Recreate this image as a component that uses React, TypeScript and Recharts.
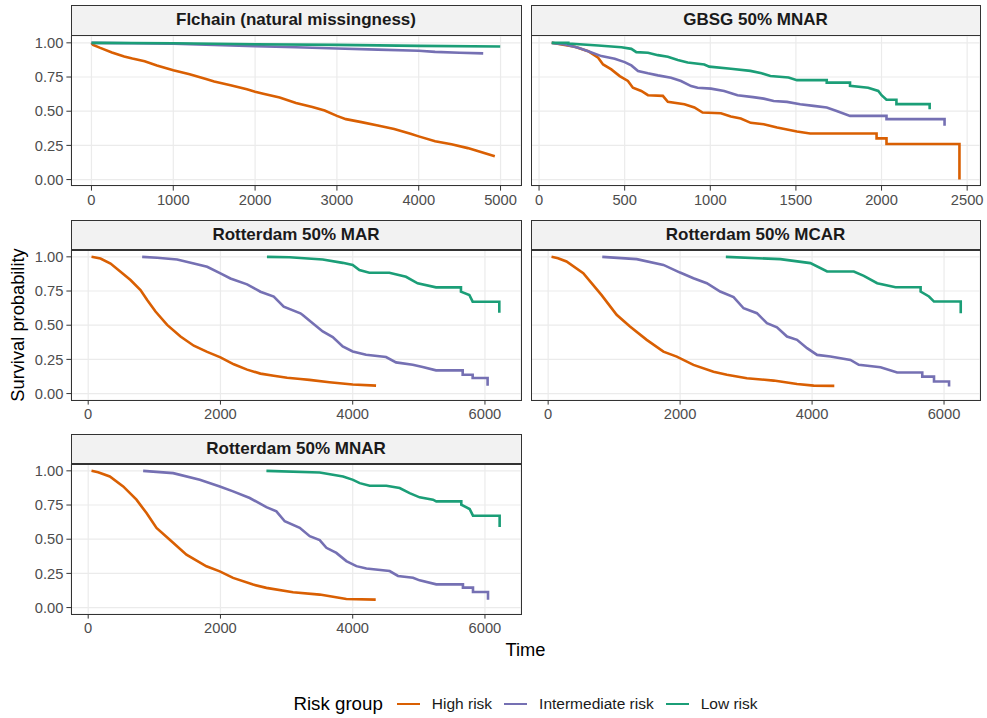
import React from 'react';
import { LineChart, Line, XAxis, YAxis, CartesianGrid } from 'recharts';

const FONT = '"Liberation Sans", Arial, Helvetica, sans-serif';

const groups = ['High risk', 'Intermediate risk', 'Low risk'];
const groupColors = ['#D95F02', '#7570B3', '#1B9E77'];

const panelTitles = [
  'Flchain (natural missingness)',
  'GBSG 50% MNAR',
  'Rotterdam 50% MAR',
  'Rotterdam 50% MCAR',
  'Rotterdam 50% MNAR',
];

const yTicks = [0, 0.25, 0.5, 0.75, 1];
const flchainTicks = [0, 1000, 2000, 3000, 4000, 5000];
const gbsgTicks = [0, 500, 1000, 1500, 2000, 2500];
const rotterdamTicks = [0, 2000, 4000, 6000];

type Pt = [number, number];

// Flchain
const flchainHigh: Pt[] = [
  [0, 1], [20, 0.985], [100, 0.965], [250, 0.93], [400, 0.9], [500, 0.885], [650, 0.865],
  [800, 0.835], [1000, 0.8], [1200, 0.77], [1400, 0.735], [1500, 0.718], [1700, 0.69],
  [1900, 0.66], [2000, 0.643], [2100, 0.628], [2300, 0.6], [2500, 0.56], [2700, 0.53],
  [2850, 0.505], [3000, 0.466], [3110, 0.442], [3300, 0.42], [3500, 0.396], [3700, 0.37],
  [3900, 0.335], [4000, 0.316], [4200, 0.28], [4400, 0.258], [4600, 0.23], [4800, 0.195],
  [4930, 0.17],
];
const flchainMid: Pt[] = [
  [0, 1], [500, 0.997], [1000, 0.993], [1500, 0.985], [2000, 0.976], [2500, 0.968],
  [3000, 0.959], [3500, 0.95], [4000, 0.942], [4200, 0.934], [4500, 0.928], [4788, 0.923],
];
const flchainLow: Pt[] = [
  [0, 1], [1000, 0.997], [2000, 0.99], [3000, 0.985], [4000, 0.978], [4996, 0.973],
];

// GBSG
const gbsgHigh: Pt[] = [
  [74, 1], [132, 0.988], [209, 0.971], [287, 0.939], [345, 0.891], [374, 0.842], [422, 0.806],
  [471, 0.757], [519, 0.721], [548, 0.672], [597, 0.648], [636, 0.617], [723, 0.612],
  [752, 0.568], [849, 0.551], [907, 0.527], [955, 0.49], [1062, 0.485], [1120, 0.461],
  [1178, 0.447], [1236, 0.415], [1312, 0.405], [1390, 0.381], [1506, 0.352], [1583, 0.337],
  [1971, 0.337], [1971, 0.301], [2029, 0.301], [2029, 0.26], [2455, 0.26], [2455, 0],
];
const gbsgMid: Pt[] = [
  [74, 1], [151, 0.988], [229, 0.964], [287, 0.939], [364, 0.903], [442, 0.883], [500, 0.859],
  [539, 0.835], [578, 0.794], [636, 0.777], [694, 0.762], [771, 0.745], [829, 0.721],
  [888, 0.684], [926, 0.672], [1004, 0.665], [1081, 0.648], [1159, 0.617], [1250, 0.603],
  [1312, 0.592], [1370, 0.575], [1448, 0.568], [1525, 0.551], [1603, 0.539], [1680, 0.527],
  [1738, 0.502], [1816, 0.466], [2029, 0.466], [2029, 0.442], [2368, 0.442], [2368, 0.393],
];
const gbsgLow: Pt[] = [
  [74, 1], [171, 1], [171, 0.995], [345, 0.981], [481, 0.968], [539, 0.956], [568, 0.932],
  [636, 0.927], [694, 0.91], [752, 0.898], [810, 0.874], [868, 0.856], [965, 0.842],
  [994, 0.826], [1120, 0.811], [1234, 0.795], [1300, 0.777], [1351, 0.758], [1457, 0.746],
  [1506, 0.727], [1680, 0.727], [1680, 0.709], [1816, 0.709], [1816, 0.685], [1922, 0.672],
  [1981, 0.648], [2000, 0.617], [2029, 0.584], [2087, 0.584], [2087, 0.552], [2281, 0.552],
  [2281, 0.515],
];

// Rotterdam MAR
const marHigh: Pt[] = [
  [50, 1], [186, 0.988], [338, 0.951], [489, 0.891], [640, 0.83], [791, 0.757], [892, 0.684],
  [1018, 0.6], [1194, 0.502], [1396, 0.417], [1597, 0.35], [1799, 0.305], [2000, 0.265],
  [2202, 0.214], [2403, 0.175], [2605, 0.146], [2806, 0.131], [3008, 0.116], [3209, 0.106],
  [3345, 0.1], [3647, 0.083], [4000, 0.066], [4353, 0.058],
];
const marMid: Pt[] = [
  [816, 1], [1043, 0.993], [1345, 0.981], [1597, 0.951], [1799, 0.927], [2000, 0.879],
  [2151, 0.842], [2403, 0.799], [2605, 0.745], [2806, 0.709], [2957, 0.636], [3209, 0.587],
  [3244, 0.575], [3395, 0.515], [3547, 0.454], [3698, 0.413], [3849, 0.345], [4000, 0.308],
  [4202, 0.284], [4504, 0.267], [4655, 0.228], [4907, 0.211], [5058, 0.194], [5260, 0.17],
  [5663, 0.17], [5663, 0.138], [5814, 0.138], [5814, 0.114], [6040, 0.114], [6040, 0.058],
];
const marLow: Pt[] = [
  [2703, 1], [3043, 0.997], [3547, 0.98], [3849, 0.956], [4000, 0.94], [4101, 0.903],
  [4252, 0.884], [4554, 0.884], [4806, 0.854], [4982, 0.806], [5260, 0.777], [5637, 0.777],
  [5637, 0.745], [5764, 0.721], [5814, 0.672], [6217, 0.672], [6217, 0.592],
];

// Rotterdam MCAR
const mcarHigh: Pt[] = [
  [51, 1], [150, 0.99], [278, 0.966], [532, 0.88], [810, 0.72], [1038, 0.576], [1240, 0.49],
  [1494, 0.393], [1747, 0.307], [1949, 0.27], [2202, 0.21], [2506, 0.16], [2709, 0.137],
  [3012, 0.112], [3418, 0.095], [3772, 0.07], [4025, 0.058], [4337, 0.056],
];
const mcarMid: Pt[] = [
  [820, 1], [1342, 0.983], [1747, 0.941], [1999, 0.885], [2202, 0.844], [2405, 0.807],
  [2607, 0.746], [2810, 0.705], [2962, 0.624], [3164, 0.588], [3316, 0.515], [3468, 0.485],
  [3620, 0.417], [3772, 0.393], [3924, 0.332], [4076, 0.283], [4278, 0.271], [4582, 0.246],
  [4708, 0.21], [5037, 0.193], [5290, 0.154], [5670, 0.154], [5670, 0.124], [5848, 0.124],
  [5848, 0.088], [6076, 0.088], [6076, 0.051],
];
const mcarLow: Pt[] = [
  [2693, 1], [3519, 0.983], [3974, 0.954], [4228, 0.893], [4633, 0.893], [4784, 0.861],
  [4987, 0.807], [5265, 0.778], [5645, 0.778], [5645, 0.746], [5772, 0.71], [5848, 0.673],
  [6253, 0.673], [6253, 0.588],
];

// Rotterdam MNAR
const mnarHigh: Pt[] = [
  [50, 1], [150, 0.99], [327, 0.959], [529, 0.886], [730, 0.789], [882, 0.691], [1033, 0.582],
  [1234, 0.496], [1486, 0.387], [1788, 0.302], [1990, 0.265], [2191, 0.217], [2494, 0.168],
  [2695, 0.144], [3098, 0.112], [3501, 0.095], [3904, 0.063], [4348, 0.058],
];
const mnarMid: Pt[] = [
  [831, 1], [1285, 0.983], [1688, 0.934], [1990, 0.886], [2191, 0.85], [2443, 0.801],
  [2695, 0.735], [2846, 0.704], [2972, 0.631], [3199, 0.583], [3350, 0.522], [3501, 0.493],
  [3602, 0.437], [3753, 0.4], [3904, 0.34], [4056, 0.303], [4207, 0.286], [4559, 0.267],
  [4685, 0.231], [4912, 0.218], [5012, 0.199], [5264, 0.17], [5667, 0.17], [5667, 0.146],
  [5819, 0.146], [5819, 0.114], [6046, 0.114], [6046, 0.058],
];
const mnarLow: Pt[] = [
  [2695, 1], [3501, 0.988], [3854, 0.959], [4005, 0.934], [4106, 0.91], [4257, 0.891],
  [4509, 0.891], [4710, 0.874], [4861, 0.837], [5012, 0.806], [5214, 0.789], [5264, 0.777],
  [5642, 0.777], [5642, 0.752], [5768, 0.721], [5819, 0.672], [6222, 0.672], [6222, 0.59],
];

const panels = [
  { title: panelTitles[0], row: 0, col: 0, xDomain: [-250, 5250], xTicks: flchainTicks, series: [flchainHigh, flchainMid, flchainLow] },
  { title: panelTitles[1], row: 0, col: 1, xDomain: [-47, 2575], xTicks: gbsgTicks, series: [gbsgHigh, gbsgMid, gbsgLow] },
  { title: panelTitles[2], row: 1, col: 0, xDomain: [-260, 6545], xTicks: rotterdamTicks, series: [marHigh, marMid, marLow] },
  { title: panelTitles[3], row: 1, col: 1, xDomain: [-260, 6545], xTicks: rotterdamTicks, series: [mcarHigh, mcarMid, mcarLow] },
  { title: panelTitles[4], row: 2, col: 0, xDomain: [-260, 6545], xTicks: rotterdamTicks, series: [mnarHigh, mnarMid, mnarLow] },
];

const colLeft = [71, 531];
const colWidth = [450, 449];
const rowTop = [35.7, 250, 464];
const plotH = 150;
const stripH = 30.5;
const yAxisW = 71;
const xAxisH = 30;
const rightPad = 8;
const yDomain = [-0.047, 1.05];

const tickStyle = { fill: '#4D4D4D', fontSize: 14.7, fontFamily: FONT };

function Panel({ p }: { p: (typeof panels)[number] }) {
  const left = colLeft[p.col];
  const w = colWidth[p.col];
  const top = rowTop[p.row];
  const showY = p.col === 0;
  const chartLeft = showY ? left - yAxisW : left;
  const chartW = (showY ? w + yAxisW : w) + rightPad;
  return (
    <>
      <div
        style={{
          position: 'absolute',
          left: left - 0.5,
          top: top - stripH,
          width: w + 1,
          height: stripH,
          boxSizing: 'border-box',
          background: '#F2F2F2',
          border: '1.1px solid #333333',
          display: 'flex',
          alignItems: 'center',
          justifyContent: 'center',
          fontFamily: FONT,
          fontWeight: 'bold',
          fontSize: 17,
          color: '#1A1A1A',
        }}
      >
        {p.title}
      </div>
      <div style={{ position: 'absolute', left: chartLeft, top, width: chartW, height: plotH + xAxisH }}>
        <LineChart width={chartW} height={plotH + xAxisH} margin={{ top: 0, right: rightPad, bottom: 0, left: 0 }}>
          <CartesianGrid stroke="#EBEBEB" strokeWidth={1.2} />
          <XAxis
            type="number"
            dataKey="t"
            domain={p.xDomain}
            ticks={p.xTicks}
            allowDataOverflow
            height={xAxisH}
            axisLine={false}
            tickLine={{ stroke: '#333333', strokeWidth: 1 }}
            tickSize={4.6}
            tickMargin={4}
            tick={tickStyle}
            interval={0}
          />
          <YAxis
            type="number"
            domain={yDomain}
            ticks={yTicks}
            allowDataOverflow
            hide={!showY}
            width={showY ? yAxisW : 0}
            axisLine={false}
            tickLine={{ stroke: '#333333', strokeWidth: 1 }}
            tickSize={4.6}
            tickMargin={3}
            tick={tickStyle}
            tickFormatter={(v: number) => v.toFixed(2)}
            interval={0}
          />
          {p.series.map((s, i) => (
            <Line
              key={groups[i]}
              name={groups[i]}
              data={s.map(([t, v]) => ({ t, s: v }))}
              dataKey="s"
              type="linear"
              stroke={groupColors[i]}
              strokeWidth={2.6}
              dot={false}
              activeDot={false}
              isAnimationActive={false}
            />
          ))}
        </LineChart>
      </div>
      <div
        style={{
          position: 'absolute',
          left: left - 0.5,
          top: top - 0.5,
          width: w + 1,
          height: plotH + 1,
          boxSizing: 'border-box',
          border: '1.1px solid #333333',
          pointerEvents: 'none',
        }}
      />
    </>
  );
}

export default function App() {
  return (
    <div style={{ position: 'absolute', left: 0, top: 0, width: 987, height: 718, background: '#FFFFFF', fontFamily: FONT, overflow: 'hidden' }}>
      {panels.map((p) => (
        <Panel key={p.title} p={p} />
      ))}
      <div
        style={{
          position: 'absolute',
          left: 18,
          top: 325,
          transform: 'translate(-50%, -50%) rotate(-90deg)',
          whiteSpace: 'nowrap',
          fontSize: 18.3,
          color: '#000000',
        }}
      >
        Survival probability
      </div>
      <div
        style={{
          position: 'absolute',
          left: 525.5,
          top: 650,
          transform: 'translate(-50%, -50%)',
          whiteSpace: 'nowrap',
          fontSize: 18.3,
          color: '#000000',
        }}
      >
        Time
      </div>
      <div
        style={{
          position: 'absolute',
          left: 71,
          width: 909,
          top: 704,
          transform: 'translateY(-50%)',
          display: 'flex',
          justifyContent: 'center',
          alignItems: 'center',
          whiteSpace: 'nowrap',
        }}
      >
        <span style={{ fontSize: 18.7, color: '#000000', marginRight: 14 }}>Risk group</span>
        {groups.map((g, i) => (
          <React.Fragment key={g}>
            <span style={{ display: 'inline-block', width: 23, height: 2.6, background: groupColors[i], marginRight: 12 }} />
            <span style={{ fontSize: 15.5, color: '#1A1A1A', marginRight: i < groups.length - 1 ? 12 : 0 }}>{g}</span>
          </React.Fragment>
        ))}
      </div>
    </div>
  );
}
